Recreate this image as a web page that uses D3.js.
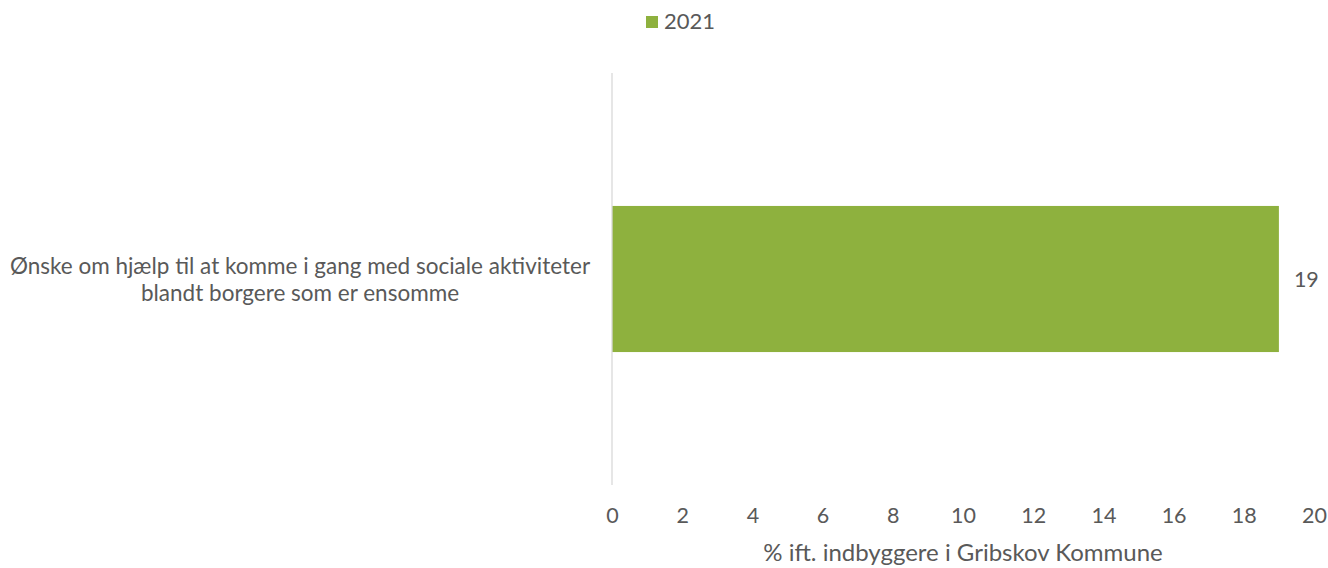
<!DOCTYPE html>
<html>
<head>
<meta charset="utf-8">
<script src="https://cdn.jsdelivr.net/npm/d3@7"></script>
<style>
  body { margin: 0; background: #fff; }
  svg text { font-family: Lato, "Open Sans", sans-serif; fill: #595959; }
</style>
</head>
<body>
<svg id="chart" width="1328" height="568"></svg>
<script>
// Survey answer, share of residents (%)
const categories = ["Ønske om hjælp til at komme i gang med sociale aktiviteter blandt borgere som er ensomme"];
const categoryLines = [["Ønske om hjælp til at komme i gang med sociale aktiviteter", "blandt borgere som er ensomme"]];
const seriesName = "2021";
const values2021 = [19];
const xTicks = [0, 2, 4, 6, 8, 10, 12, 14, 16, 18, 20];
const xTitle = "% ift. indbyggere i Gribskov Kommune";

const svg = d3.select("#chart");
const green = "#8eb13e";

const x = d3.scaleLinear().domain([0, 20]).range([612, 1314]);
const y = d3.scaleBand().domain(categories).range([73, 485]).paddingInner(0).paddingOuter(0.91);

// Bars
svg.selectAll("rect.bar").data(values2021).enter().append("rect")
  .attr("class", "bar")
  .attr("x", x(0))
  .attr("y", (d, i) => y(categories[i]))
  .attr("width", d => x(d) - x(0))
  .attr("height", y.bandwidth())
  .attr("fill", green);

// Vertical category axis line
svg.append("line")
  .attr("x1", x(0)).attr("x2", x(0))
  .attr("y1", 73).attr("y2", 485)
  .attr("stroke", "#d9d9d9").attr("stroke-width", 1.3);

// Value axis ticks
const xAxis = d3.axisBottom(x).tickValues(xTicks).tickSize(0).tickPadding(0);
const gx = svg.append("g").attr("transform", "translate(0,523)").call(xAxis);
gx.select(".domain").remove();
gx.selectAll("text").attr("font-size", 21.5).attr("dy", 0).style("font-family", "Lato, 'Open Sans', sans-serif").style("fill", "#595959");

// Axis title
svg.append("text")
  .attr("x", 963).attr("y", 561)
  .attr("text-anchor", "middle").attr("font-size", 24)
  .text(xTitle);

// Category labels
categories.forEach((c, i) => {
  const cy = y(c) + y.bandwidth() / 2;
  const t = svg.append("text").attr("text-anchor", "middle").attr("font-size", 22.5);
  categoryLines[i].forEach((ln, j) => {
    t.append("tspan").attr("x", 300).attr("y", cy - 5 + j * 27).text(ln);
  });
});

// Data labels
svg.selectAll("text.lbl").data(values2021).enter().append("text")
  .attr("class", "lbl")
  .attr("x", d => x(d) + 15)
  .attr("y", (d, i) => y(categories[i]) + y.bandwidth() / 2 + 8)
  .attr("font-size", 21.5)
  .text(d => d);

// Legend
const lg = svg.append("g").attr("transform", "translate(646,16)");
lg.append("rect").attr("width", 12).attr("height", 12).attr("fill", green);
lg.append("text").attr("x", 18).attr("y", 13).attr("font-size", 22).text(seriesName);
</script>
</body>
</html>
